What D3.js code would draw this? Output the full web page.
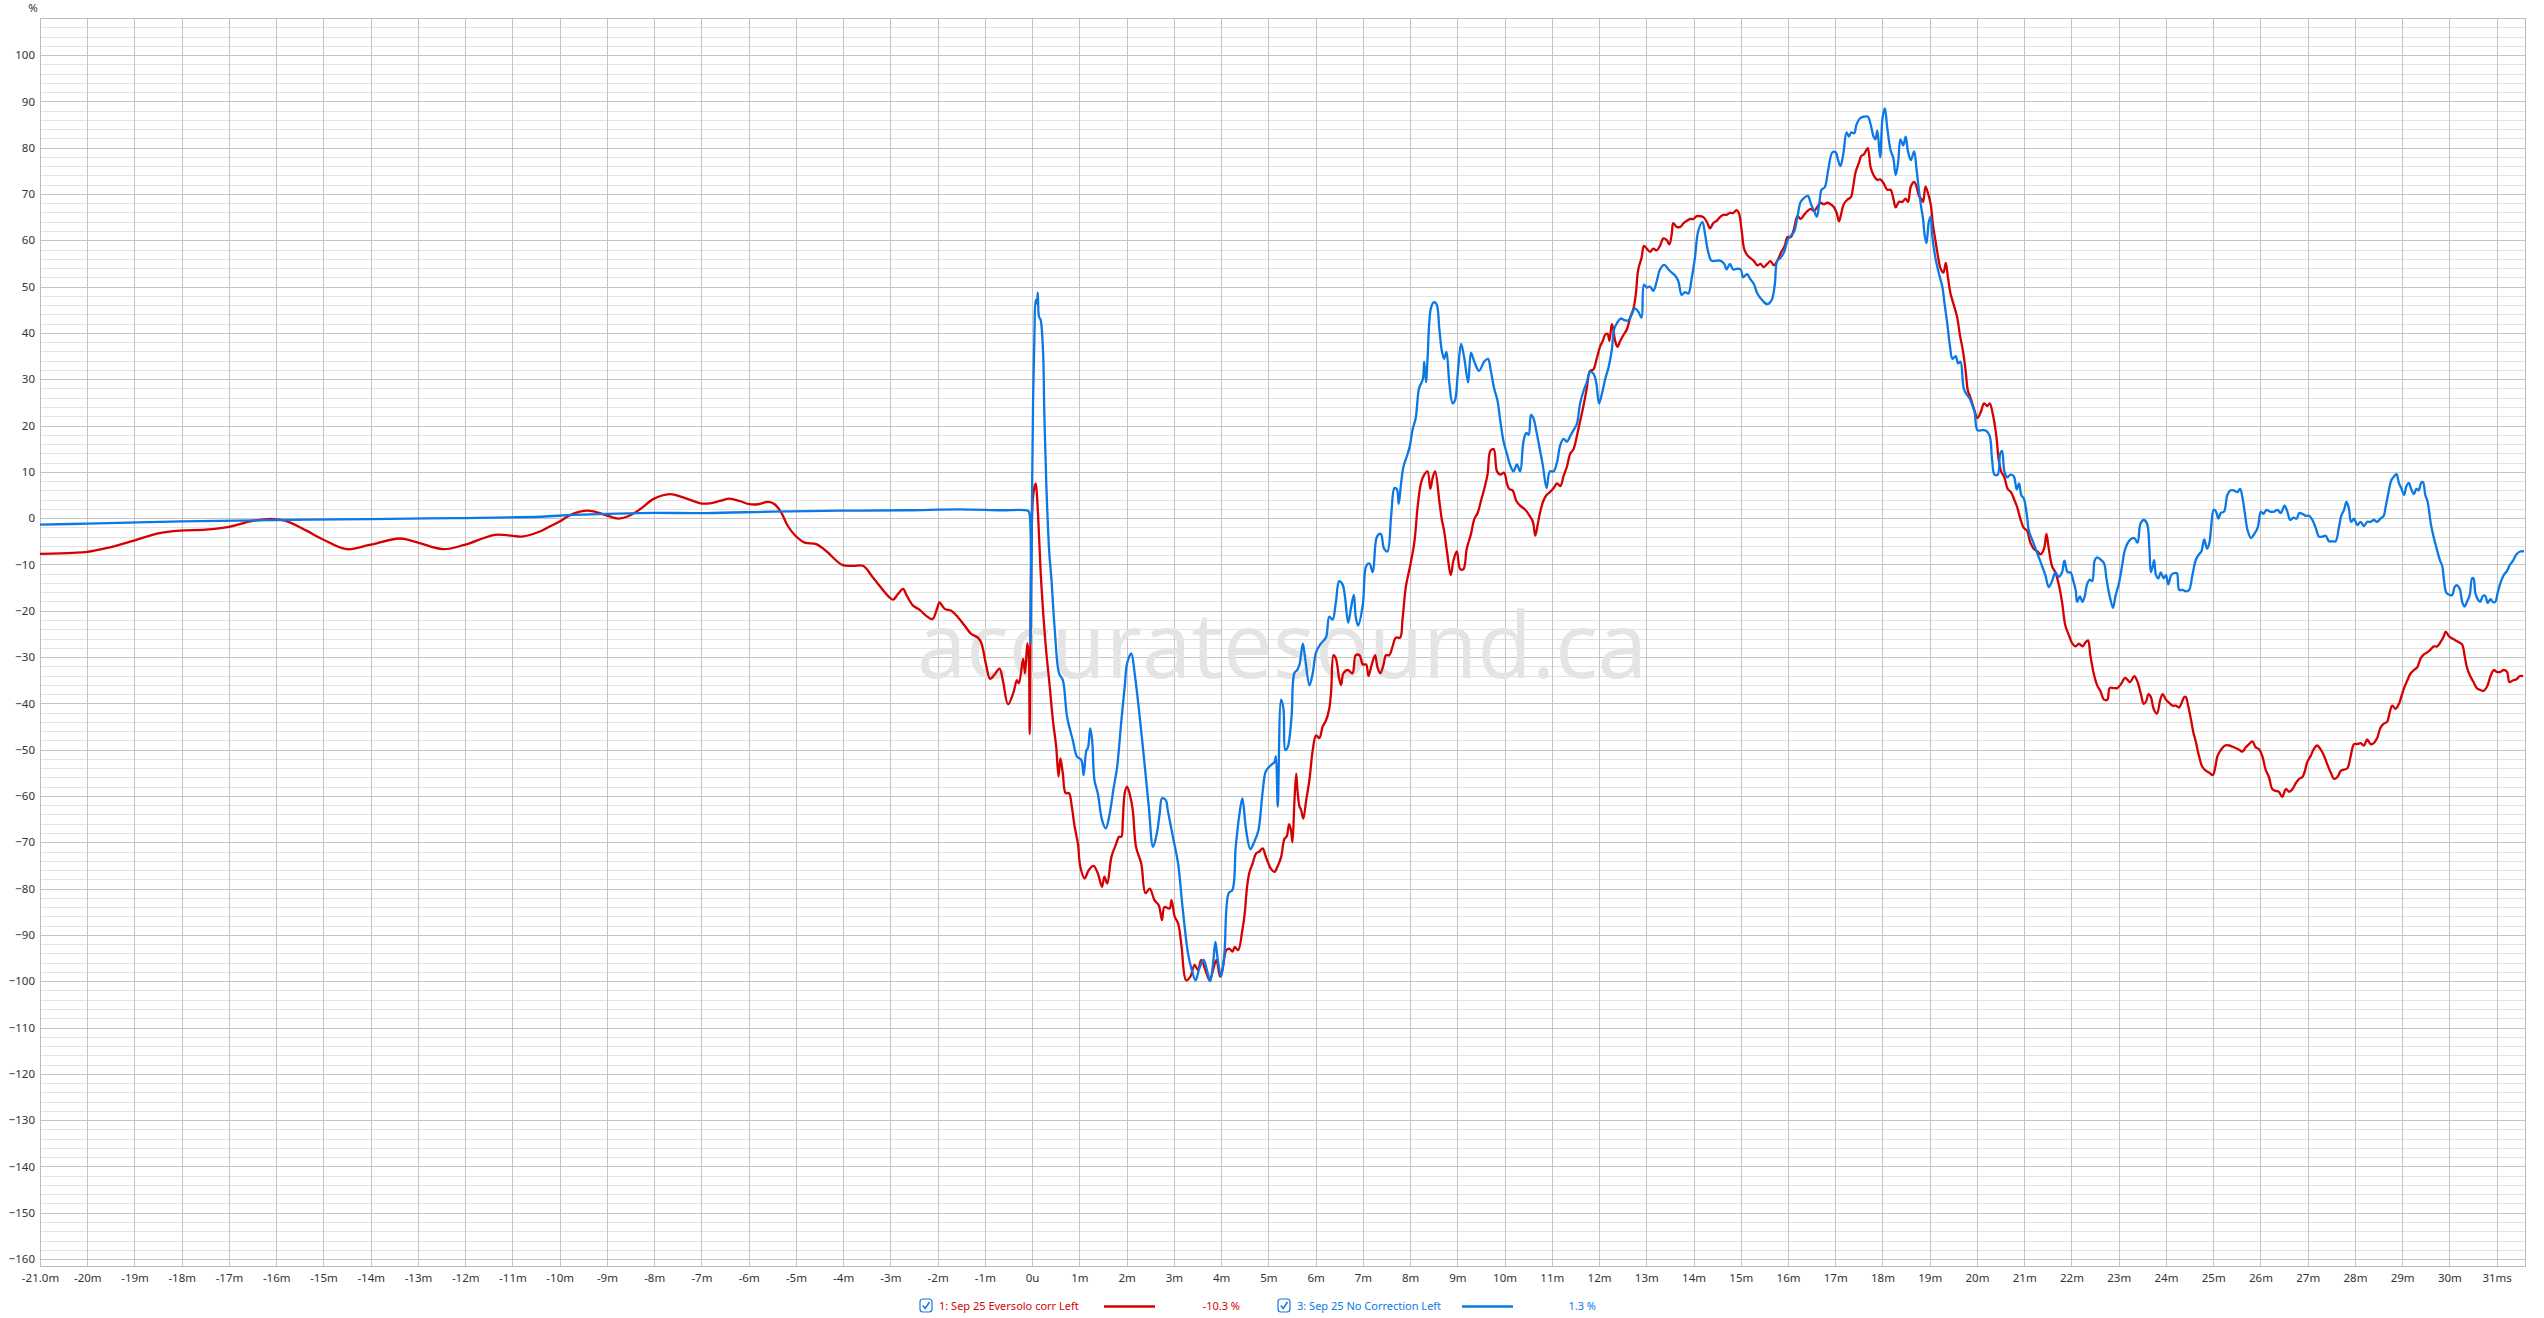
<!DOCTYPE html>
<html>
<head>
<meta charset="utf-8">
<script src="https://cdn.jsdelivr.net/npm/d3@7"></script>
<style>
  html, body { margin: 0; padding: 0; background: #fff; }
  svg { display: block; }
  text { font-family: "Segoe UI", "Noto Sans", "Open Sans", sans-serif; }
</style>
</head>
<body>
<svg id="chart" width="2544" height="1318"></svg>
<script>
// ---------------- DATA ----------------
const yTickValues = [100,90,80,70,60,50,40,30,20,10,0,-10,-20,-30,-40,-50,-60,-70,-80,-90,-100,-110,-120,-130,-140,-150,-160];
const xTickValues = [-21,-20,-19,-18,-17,-16,-15,-14,-13,-12,-11,-10,-9,-8,-7,-6,-5,-4,-3,-2,-1,0,1,2,3,4,5,6,7,8,9,10,11,12,13,14,15,16,17,18,19,20,21,22,23,24,25,26,27,28,29,30,31];
const xTickLabels = ["-21.0m","-20m","-19m","-18m","-17m","-16m","-15m","-14m","-13m","-12m","-11m","-10m","-9m","-8m","-7m","-6m","-5m","-4m","-3m","-2m","-1m","0u","1m","2m","3m","4m","5m","6m","7m","8m","9m","10m","11m","12m","13m","14m","15m","16m","17m","18m","19m","20m","21m","22m","23m","24m","25m","26m","27m","28m","29m","30m","31ms"];

const seriesNames = ["1: Sep 25 Eversolo corr Left", "3: Sep 25 No Correction Left"];
const seriesReadouts = ["-10.3 %", "1.3 %"];
const seriesColors = ["#d60000", "#0a78e6"];

// Series 1 (red): time in ms, value in %
const redT = [-21.0,-20.3,-20.0,-19.6,-19.03,-18.5,-18.03,-17.5,-17.0,-16.5,-16.06,-15.8,-15.36,-15.03,-14.51,-14.03,-13.38,-13.0,-12.47,-12.02,-11.37,-11.03,-10.8,-10.42,-10.21,-10.01,-9.79,-9.57,-9.40,-9.19,-9.01,-8.76,-8.55,-8.30,-8.02,-7.67,-7.39,-7.02,-6.82,-6.61,-6.41,-6.19,-5.98,-5.80,-5.59,-5.45,-5.31,-5.17,-5.01,-4.81,-4.57,-4.36,-4.02,-3.79,-3.58,-3.37,-3.02,-2.94,-2.84,-2.73,-2.66,-2.52,-2.38,-2.24,-2.11,-2.01,-1.96,-1.85,-1.71,-1.57,-1.43,-1.29,-1.15,-1.08,-0.97,-0.89,-0.79,-0.69,-0.62,-0.51,-0.40,-0.32,-0.28,-0.19,-0.15,-0.10,-0.07,-0.05,0.02,0.075,0.10,0.16,0.19,0.29,0.36,0.44,0.51,0.56,0.60,0.65,0.71,0.78,0.84,0.90,0.97,1.02,1.11,1.20,1.30,1.39,1.48,1.53,1.59,1.68,1.78,1.84,1.89,1.92,1.96,2.01,2.08,2.13,2.20,2.31,2.40,2.49,2.59,2.68,2.75,2.80,2.91,2.95,3.02,3.09,3.16,3.26,3.35,3.44,3.51,3.58,3.69,3.76,3.83,3.90,3.98,4.04,4.11,4.18,4.24,4.29,4.36,4.45,4.50,4.55,4.60,4.67,4.74,4.81,4.88,4.95,5.06,5.13,5.20,5.27,5.34,5.39,5.44,5.48,5.51,5.55,5.59,5.62,5.66,5.69,5.74,5.80,5.87,5.94,6.01,6.08,6.15,6.22,6.29,6.33,6.38,6.43,6.50,6.54,6.59,6.68,6.78,6.85,6.93,7.00,7.07,7.12,7.19,7.26,7.31,7.37,7.44,7.49,7.56,7.63,7.70,7.79,7.84,7.91,8.00,8.09,8.16,8.23,8.30,8.37,8.43,8.48,8.53,8.62,8.67,8.72,8.79,8.86,8.92,8.99,9.06,9.13,9.20,9.29,9.36,9.43,9.50,9.57,9.64,9.70,9.77,9.84,9.91,9.99,10.05,10.10,10.17,10.25,10.33,10.44,10.53,10.60,10.65,10.70,10.75,10.82,10.89,10.96,11.04,11.11,11.18,11.25,11.32,11.39,11.46,11.53,11.60,11.67,11.74,11.81,11.88,11.95,12.02,12.08,12.13,12.18,12.22,12.27,12.30,12.34,12.39,12.45,12.52,12.59,12.66,12.73,12.78,12.83,12.90,12.95,13.01,13.08,13.15,13.22,13.29,13.36,13.43,13.49,13.54,13.57,13.64,13.72,13.79,13.86,13.93,14.00,14.07,14.14,14.21,14.28,14.35,14.42,14.49,14.56,14.63,14.70,14.77,14.84,14.91,14.96,15.02,15.07,15.13,15.20,15.28,15.35,15.42,15.48,15.56,15.63,15.70,15.77,15.86,15.93,15.99,16.06,16.13,16.20,16.27,16.34,16.41,16.48,16.55,16.62,16.69,16.76,16.83,16.90,16.97,17.03,17.08,17.13,17.18,17.26,17.33,17.38,17.43,17.50,17.55,17.61,17.66,17.69,17.75,17.81,17.88,17.96,18.03,18.10,18.17,18.23,18.28,18.35,18.42,18.49,18.54,18.60,18.67,18.72,18.77,18.82,18.86,18.91,18.96,19.02,19.07,19.12,19.17,19.23,19.29,19.34,19.38,19.44,19.51,19.58,19.64,19.71,19.76,19.81,19.86,19.94,20.01,20.08,20.15,20.22,20.27,20.34,20.41,20.46,20.51,20.58,20.65,20.72,20.80,20.85,20.92,20.99,21.06,21.13,21.20,21.28,21.35,21.42,21.47,21.52,21.59,21.66,21.73,21.80,21.87,21.94,22.02,22.09,22.16,22.23,22.30,22.35,22.40,22.47,22.54,22.61,22.69,22.76,22.81,22.90,22.97,23.05,23.14,23.24,23.33,23.40,23.47,23.53,23.58,23.63,23.68,23.74,23.81,23.88,23.93,24.00,24.07,24.14,24.21,24.28,24.33,24.39,24.42,24.47,24.53,24.58,24.63,24.70,24.77,24.85,24.92,24.99,25.04,25.09,25.16,25.25,25.34,25.44,25.53,25.62,25.69,25.76,25.83,25.90,25.97,26.04,26.11,26.18,26.25,26.32,26.39,26.46,26.54,26.61,26.68,26.75,26.82,26.89,26.94,26.99,27.06,27.13,27.20,27.27,27.35,27.42,27.49,27.56,27.63,27.70,27.77,27.84,27.91,27.98,28.05,28.12,28.19,28.26,28.33,28.40,28.47,28.54,28.61,28.68,28.74,28.79,28.86,28.94,28.98,29.04,29.11,29.18,29.25,29.32,29.39,29.46,29.53,29.60,29.67,29.74,29.81,29.88,29.92,29.99,30.06,30.13,30.20,30.27,30.32,30.37,30.44,30.51,30.58,30.65,30.72,30.80,30.87,30.94,31.00,31.08,31.15,31.22,31.27,31.35,31.42,31.49,31.56];
const redV = [-7.7,-7.5,-7.3,-6.5,-4.9,-3.3,-2.7,-2.5,-1.9,-0.6,-0.2,-0.6,-2.7,-4.5,-6.7,-5.8,-4.4,-5.3,-6.7,-5.8,-3.6,-3.8,-4.0,-2.9,-1.8,-0.8,0.6,1.4,1.6,1.2,0.6,-0.1,0.4,1.9,4.1,5.2,4.5,3.2,3.2,3.7,4.2,3.7,3.0,3.0,3.5,3.0,1.2,-1.7,-3.8,-5.3,-5.6,-7.1,-10.1,-10.3,-10.3,-12.8,-17.1,-17.6,-16.4,-15.3,-16.6,-18.9,-19.8,-21.1,-21.8,-19.5,-18.2,-19.6,-20.0,-21.4,-23.2,-25.0,-25.8,-26.8,-31.9,-34.7,-33.7,-32.5,-35.0,-40.2,-37.8,-35.0,-35.7,-30.4,-33.5,-27.0,-30.0,-46.6,4.6,7.5,5.3,-6.9,-13.4,-27.8,-35.0,-43.6,-49.4,-55.8,-51.9,-55.1,-59.4,-59.4,-62.3,-66.6,-70.3,-75.3,-77.8,-76.0,-75.1,-76.7,-79.6,-77.4,-78.9,-73.1,-70.3,-68.8,-68.8,-65.2,-59.4,-58.0,-60.2,-63.0,-71.0,-74.6,-81.0,-80.0,-82.5,-83.6,-86.8,-84.0,-84.3,-82.5,-86.1,-87.5,-92.2,-99.8,-99.0,-96.5,-97.6,-95.4,-98.3,-99.8,-97.6,-95.4,-99.0,-96.9,-93.3,-93.0,-93.6,-92.6,-93.3,-89.0,-85.4,-79.6,-76.5,-74.5,-72.4,-72.0,-71.3,-73.2,-75.8,-76.4,-75.1,-73.2,-69.3,-68.7,-66.1,-67.4,-70.0,-61.7,-55.2,-59.1,-62.3,-62.9,-64.9,-61.0,-56.5,-50.1,-46.9,-47.5,-45.0,-43.7,-41.1,-37.3,-29.6,-30.3,-34.7,-36.0,-33.5,-32.8,-33.5,-29.6,-29.6,-31.6,-31.6,-34.1,-31.6,-29.6,-32.2,-33.5,-31.6,-29.6,-29.6,-27.7,-25.8,-25.8,-21.9,-14.9,-10.4,-5.3,2.4,7.5,9.4,10.1,6.3,8.8,10.1,3.7,-0.2,-2.7,-7.8,-12.3,-9.1,-7.2,-11.0,-11.0,-6.6,-3.4,-0.2,1.1,3.7,6.3,9.4,14.5,14.9,10.1,9.4,9.8,7.5,6.3,6.0,3.7,2.7,1.8,0.5,-0.8,-3.8,-1.5,1.1,3.7,5.0,5.6,6.5,7.5,6.9,9.1,11.1,13.9,14.9,17.7,20.9,24.2,28.0,31.8,32.1,34.4,37.0,38.3,39.6,39.8,38.3,41.9,40.8,38.3,37.0,38.3,39.6,40.8,43.3,45.3,48.5,53.7,56.2,58.8,58.2,57.5,58.2,57.8,58.8,60.4,60.1,59.1,61.4,63.7,62.9,62.9,63.7,64.2,64.6,64.6,65.2,65.2,65.0,64.0,62.6,63.7,64.2,65.0,65.5,65.5,65.9,65.9,66.5,65.9,62.0,58.2,56.9,56.2,55.5,54.6,54.9,54.2,54.9,55.5,54.6,55.5,57.5,58.8,60.7,60.7,62.6,65.2,64.6,65.5,66.3,66.8,66.3,67.2,68.1,67.8,68.1,67.8,67.2,65.9,64.1,65.9,67.8,68.8,69.3,71.6,74.7,76.7,78.2,78.6,79.5,79.9,75.7,74.1,73.1,73.1,72.2,70.9,70.9,69.0,67.1,68.3,68.3,69.0,68.3,71.6,72.6,71.6,69.6,69.0,68.3,71.6,70.3,67.8,63.2,60.0,56.8,53.9,53.0,55.1,52.4,48.5,46.0,43.4,39.5,35.7,31.8,27.4,26.1,23.5,21.6,22.9,24.8,24.2,24.8,22.2,17.7,12.6,10.1,8.8,6.3,5.6,3.7,2.4,-0.2,-2.1,-2.7,-5.3,-6.6,-7.2,-7.8,-6.6,-3.4,-6.6,-10.4,-11.7,-14.3,-18.1,-23.2,-25.1,-27.1,-27.7,-27.1,-27.7,-26.8,-26.4,-29.6,-33.5,-36.0,-37.3,-39.2,-39.2,-36.7,-36.7,-36.7,-35.8,-34.5,-35.4,-34.1,-35.4,-38.0,-40.1,-39.6,-38.0,-38.6,-41.2,-42.2,-39.2,-38.0,-39.2,-39.9,-40.5,-40.5,-40.9,-39.9,-38.6,-38.6,-40.5,-43.5,-46.3,-48.2,-51.4,-53.7,-54.6,-55.0,-55.5,-54.0,-51.4,-50.1,-49.1,-49.1,-49.5,-49.9,-50.4,-49.5,-48.8,-48.2,-49.5,-49.9,-51.4,-54.3,-55.9,-58.5,-58.9,-59.1,-60.2,-58.5,-59.1,-58.5,-57.2,-56.3,-55.9,-54.6,-52.7,-51.4,-49.9,-49.1,-49.9,-51.4,-53.3,-55.0,-56.3,-55.9,-54.6,-54.3,-54.0,-51.4,-48.8,-48.8,-48.6,-49.1,-47.8,-48.8,-48.6,-47.5,-45.3,-44.4,-44.0,-41.8,-40.5,-41.2,-39.9,-38.6,-36.7,-35.0,-33.5,-32.8,-32.2,-30.3,-29.4,-29.0,-28.4,-27.7,-27.7,-26.8,-25.5,-24.5,-25.5,-26.0,-26.4,-26.8,-27.3,-29.6,-32.2,-34.1,-35.4,-36.7,-37.1,-37.3,-36.3,-34.1,-32.8,-33.2,-33.2,-32.8,-33.2,-35.4,-35.0,-34.8,-34.1,-34.1];

// Series 3 (blue): time in ms, value in %
const blueT = [-21.0,-20.0,-18.0,-16.0,-14.0,-12.2,-10.4,-9.7,-8.3,-6.9,-5.5,-4.07,-2.66,-1.53,-0.69,-0.09,-0.06,-0.035,-0.01,0.02,0.05,0.075,0.10,0.12,0.145,0.18,0.23,0.26,0.30,0.36,0.41,0.48,0.57,0.65,0.74,0.86,0.95,1.04,1.09,1.15,1.18,1.23,1.27,1.32,1.39,1.48,1.56,1.63,1.73,1.80,1.89,1.96,2.01,2.10,2.17,2.27,2.40,2.47,2.56,2.64,2.70,2.75,2.83,2.87,2.98,3.09,3.19,3.30,3.37,3.46,3.54,3.63,3.70,3.77,3.83,3.88,3.93,4.00,4.07,4.16,4.24,4.31,4.39,4.45,4.53,4.62,4.70,4.79,4.88,4.95,5.06,5.13,5.16,5.20,5.27,5.32,5.36,5.41,5.49,5.55,5.61,5.66,5.73,5.78,5.87,5.94,6.01,6.11,6.22,6.29,6.36,6.43,6.50,6.57,6.62,6.69,6.75,6.81,6.85,6.90,7.00,7.07,7.14,7.21,7.30,7.38,7.45,7.52,7.60,7.67,7.72,7.76,7.81,7.86,7.95,8.00,8.05,8.12,8.19,8.27,8.30,8.34,8.37,8.44,8.50,8.56,8.62,8.67,8.72,8.77,8.83,8.90,8.95,9.01,9.08,9.15,9.23,9.29,9.36,9.46,9.57,9.65,9.71,9.78,9.85,9.92,9.98,10.05,10.12,10.19,10.26,10.33,10.40,10.46,10.51,10.56,10.61,10.67,10.74,10.81,10.89,10.96,11.04,11.11,11.18,11.25,11.32,11.39,11.46,11.53,11.60,11.67,11.74,11.81,11.88,11.94,12.00,12.06,12.13,12.20,12.27,12.32,12.38,12.46,12.55,12.62,12.69,12.76,12.83,12.90,12.95,13.01,13.08,13.15,13.22,13.29,13.38,13.47,13.54,13.61,13.68,13.75,13.82,13.89,13.96,14.03,14.10,14.19,14.24,14.31,14.38,14.49,14.56,14.65,14.70,14.77,14.84,14.93,15.00,15.05,15.13,15.21,15.28,15.35,15.46,15.56,15.65,15.72,15.77,15.84,15.92,15.99,16.06,16.13,16.20,16.27,16.35,16.42,16.49,16.55,16.61,16.66,16.71,16.78,16.85,16.94,17.01,17.06,17.11,17.17,17.24,17.29,17.34,17.40,17.45,17.52,17.61,17.69,17.75,17.81,17.85,17.89,17.95,18.00,18.05,18.10,18.17,18.23,18.28,18.33,18.38,18.44,18.49,18.54,18.60,18.67,18.72,18.77,18.82,18.86,18.89,18.93,18.98,19.02,19.05,19.12,19.19,19.27,19.31,19.37,19.43,19.48,19.55,19.60,19.65,19.72,19.78,19.83,19.90,19.95,20.01,20.11,20.20,20.27,20.32,20.37,20.44,20.49,20.53,20.58,20.64,20.71,20.78,20.84,20.89,20.94,20.99,21.05,21.10,21.17,21.24,21.31,21.38,21.45,21.52,21.59,21.66,21.73,21.80,21.85,21.92,21.98,22.04,22.09,22.12,22.18,22.23,22.28,22.33,22.39,22.44,22.49,22.54,22.61,22.69,22.74,22.81,22.88,22.93,23.00,23.07,23.14,23.24,23.33,23.40,23.46,23.53,23.60,23.65,23.68,23.72,23.75,23.79,23.84,23.89,23.95,24.00,24.05,24.11,24.16,24.23,24.28,24.35,24.42,24.49,24.56,24.63,24.70,24.75,24.81,24.87,24.92,24.95,25.01,25.06,25.11,25.16,25.23,25.30,25.37,25.44,25.51,25.57,25.62,25.67,25.73,25.80,25.87,25.94,26.01,26.06,26.13,26.20,26.29,26.36,26.43,26.51,26.57,26.63,26.70,26.77,26.82,26.89,26.96,27.03,27.10,27.17,27.24,27.31,27.38,27.45,27.52,27.59,27.66,27.71,27.77,27.82,27.87,27.92,27.98,28.05,28.12,28.19,28.26,28.33,28.40,28.47,28.54,28.61,28.65,28.70,28.77,28.82,28.88,28.93,28.98,29.04,29.09,29.14,29.19,29.25,29.30,29.35,29.40,29.44,29.49,29.54,29.60,29.65,29.73,29.80,29.85,29.88,29.94,30.01,30.06,30.11,30.16,30.22,30.27,30.32,30.37,30.43,30.48,30.51,30.55,30.60,30.65,30.71,30.76,30.81,30.87,30.92,30.97,31.02,31.08,31.15,31.22,31.28,31.35,31.42,31.50,31.58];
const blueV = [-1.4,-1.2,-0.7,-0.4,-0.2,0.0,0.3,0.7,1.1,1.1,1.4,1.6,1.7,1.9,1.7,1.6,1.2,-27.0,-5.0,25.0,40.0,47.1,46.4,48.7,43.5,42.8,36.3,21.9,7.5,-6.9,-13.4,-24.2,-33.5,-35.0,-42.9,-47.9,-51.5,-52.2,-55.5,-50.1,-49.7,-45.4,-47.9,-56.6,-59.4,-65.2,-67.0,-64.5,-58.0,-53.7,-43.6,-36.4,-31.4,-29.2,-33.5,-42.2,-55.1,-62.3,-71.0,-68.1,-63.8,-60.5,-60.9,-63.0,-68.8,-74.6,-84.6,-94.0,-97.2,-99.8,-97.2,-95.4,-97.6,-100.0,-96.2,-91.5,-95.4,-99.0,-94.0,-81.0,-80.3,-71.0,-63.8,-60.5,-67.4,-71.5,-70.0,-67.4,-59.1,-54.6,-53.3,-52.7,-51.4,-62.3,-39.2,-41.2,-50.1,-49.5,-43.1,-33.5,-32.8,-31.6,-27.1,-30.3,-36.1,-33.5,-29.0,-27.1,-25.8,-21.3,-21.9,-18.1,-13.6,-14.3,-16.8,-22.6,-19.4,-16.6,-21.3,-23.2,-18.7,-10.4,-9.8,-11.7,-4.0,-3.4,-6.6,-7.2,0.5,6.5,6.3,3.1,7.5,11.1,13.9,15.8,19.0,21.6,28.0,30.0,33.8,29.3,34.4,45.3,46.6,46.2,40.8,36.3,34.4,35.9,29.3,24.8,25.4,31.2,37.6,34.4,29.3,35.7,33.8,31.8,33.8,34.4,31.8,28.0,25.4,20.3,16.5,13.9,11.4,10.1,11.6,10.1,16.5,18.4,18.0,22.3,21.6,19.0,15.2,11.4,6.5,10.1,10.1,12.0,15.8,17.1,16.5,17.7,19.0,20.3,24.8,27.4,29.3,31.6,31.2,29.3,24.8,26.8,30.0,32.5,36.3,40.8,42.1,43.1,42.7,42.7,44.0,45.3,44.6,43.3,50.4,49.8,50.0,49.1,51.1,53.7,54.7,53.7,53.0,52.4,51.1,48.2,48.8,48.5,51.7,56.2,62.0,63.9,61.6,57.5,55.6,55.6,55.6,54.9,53.7,54.9,53.7,53.9,53.7,52.0,52.7,51.5,50.5,48.5,47.0,46.2,47.0,50.4,55.5,56.2,57.5,60.0,61.0,61.9,65.1,68.3,69.2,69.6,67.7,66.4,65.1,67.7,70.9,71.5,75.1,79.0,79.0,77.3,76.0,78.6,83.3,82.4,83.3,83.1,85.0,86.3,86.7,86.7,85.0,82.4,81.8,83.7,77.9,86.3,88.5,84.4,79.5,77.7,74.1,76.7,81.8,80.5,82.4,79.2,77.3,79.2,75.4,70.9,67.1,64.5,61.3,59.4,63.9,65.1,61.3,56.2,53.0,49.8,46.6,42.1,37.0,34.4,35.0,33.4,33.8,28.0,26.7,26.1,24.4,22.9,19.0,19.0,18.8,17.7,12.6,9.4,9.4,13.9,14.5,10.1,8.8,9.4,9.0,6.2,7.5,4.9,4.3,1.1,-2.8,-4.7,-6.6,-8.5,-10.4,-12.4,-14.9,-13.6,-11.7,-12.7,-11.7,-9.2,-11.7,-11.7,-13.6,-15.6,-18.1,-16.9,-18.1,-16.9,-14.3,-13.3,-13.6,-9.2,-8.5,-8.9,-9.8,-13.0,-16.9,-19.4,-16.9,-14.3,-10.4,-6.6,-4.7,-4.3,-5.3,-1.2,-0.4,-1.2,-6.6,-11.7,-10.4,-9.1,-12.3,-13.0,-11.7,-13.0,-12.3,-14.3,-12.3,-11.9,-11.9,-15.5,-15.5,-15.8,-15.5,-12.3,-9.1,-7.8,-7.2,-4.6,-6.6,-5.3,-2.7,1.8,1.4,-0.1,1.1,1.4,5.0,6.0,6.0,5.6,6.3,4.4,1.1,-2.7,-4.3,-3.4,-2.1,1.4,0.9,1.8,1.4,1.4,1.8,1.1,2.7,1.4,-0.4,0.1,-0.1,1.1,0.9,0.5,0.5,-0.4,-2.1,-4.0,-4.0,-3.8,-5.0,-5.0,-5.0,-2.1,0.5,1.8,3.5,2.2,-0.8,-0.1,-1.5,-0.8,-1.7,-0.8,-0.8,-0.4,-0.8,-0.1,0.5,2.4,5.0,8.2,8.9,9.5,7.6,6.5,5.0,6.9,7.6,6.3,5.2,6.3,6.0,7.6,7.8,5.0,3.5,-0.8,-3.4,-6.6,-9.1,-10.4,-13.0,-16.2,-16.6,-16.6,-14.9,-14.5,-15.3,-18.1,-19.1,-18.1,-16.6,-13.0,-13.0,-16.2,-17.5,-18.1,-16.8,-16.8,-18.3,-17.5,-18.1,-18.1,-16.2,-14.0,-12.3,-11.4,-10.1,-9.1,-7.8,-7.2,-7.2];

// ---------------- LAYOUT ----------------
const W = 2544, H = 1318;
const plotL = 40, plotR = 2525, plotT = 18, plotB = 1266;

const svg = d3.select("#chart");
const x = d3.scaleLinear().domain([-21, 31.6]).range([plotL, plotR]);
const y = d3.scaleLinear().domain([-161.5, 108]).range([plotB, plotT]);

// grid
const grid = svg.append("g");
const minorY = d3.range(-160, 108.1, 2).filter(v => v % 10 !== 0);
grid.selectAll("line.minor").data(minorY).join("line")
  .attr("x1", plotL).attr("x2", plotR)
  .attr("y1", d => Math.round(y(d)) + 0.5).attr("y2", d => Math.round(y(d)) + 0.5)
  .attr("stroke", "#e2e2e2").attr("stroke-width", 1);
grid.selectAll("line.majorY").data(yTickValues).join("line")
  .attr("x1", plotL).attr("x2", plotR)
  .attr("y1", d => Math.round(y(d)) + 0.5).attr("y2", d => Math.round(y(d)) + 0.5)
  .attr("stroke", "#c4c4c4").attr("stroke-width", 1);
grid.selectAll("line.majorX").data(xTickValues.slice(1)).join("line")
  .attr("y1", plotT).attr("y2", plotB)
  .attr("x1", d => Math.round(x(d)) + 0.5).attr("x2", d => Math.round(x(d)) + 0.5)
  .attr("stroke", "#c4c4c4").attr("stroke-width", 1);
svg.append("rect")
  .attr("x", plotL + 0.5).attr("y", plotT + 0.5)
  .attr("width", plotR - plotL).attr("height", plotB - plotT)
  .attr("fill", "none").attr("stroke", "#bdbdbd").attr("stroke-width", 1);

// watermark
svg.append("text")
  .attr("x", 917).attr("y", 678)
  .attr("textLength", 730).attr("lengthAdjust", "spacingAndGlyphs")
  .attr("font-size", 92).attr("fill", "#e4e4e4")
  .style("font-family", "'Open Sans', 'Noto Sans', sans-serif")
  .text("accuratesound.ca");

// axes labels
const yAxis = d3.axisLeft(y).tickValues(yTickValues).tickSize(0).tickPadding(4).tickFormat(d3.format("d"));
const gy = svg.append("g").attr("transform", `translate(${plotL - 1},0)`).call(yAxis);
gy.select(".domain").remove();
gy.selectAll("text").attr("font-size", 11.5).attr("fill", "#333").style("font-family", "'Segoe UI','Noto Sans',sans-serif");

const xAxis = d3.axisBottom(x).tickValues(xTickValues).tickSize(0).tickPadding(8)
  .tickFormat((d, i) => xTickLabels[i]);
const gx = svg.append("g").attr("transform", `translate(0,${plotB})`).call(xAxis);
gx.select(".domain").remove();
gx.selectAll("text").attr("font-size", 11.5).attr("fill", "#333").style("font-family", "'Segoe UI','Noto Sans',sans-serif");

svg.append("text").attr("x", 33).attr("y", 12).attr("text-anchor", "middle")
  .attr("font-size", 11.5).attr("fill", "#333").text("%");

// curves
const clip = svg.append("clipPath").attr("id", "plotclip").append("rect")
  .attr("x", plotL).attr("y", plotT).attr("width", plotR - plotL).attr("height", plotB - plotT);

const line = d3.line().x(d => x(d[0])).y(d => y(d[1])).curve(d3.curveCatmullRom.alpha(0.5));
const redData = redT.map((t, i) => [t, redV[i]]);
const blueData = blueT.map((t, i) => [t, blueV[i]]);

const curves = svg.append("g").attr("clip-path", "url(#plotclip)");
curves.append("path").datum(redData).attr("d", line)
  .attr("fill", "none").attr("stroke", seriesColors[0]).attr("stroke-width", 2.3)
  .attr("stroke-linejoin", "round");
curves.append("path").datum(blueData).attr("d", line)
  .attr("fill", "none").attr("stroke", seriesColors[1]).attr("stroke-width", 2.3)
  .attr("stroke-linejoin", "round");

// legend
const legendY = 1306;
const legendItems = [
  { box: 926, text: 939, l1: 1104, l2: 1155, read: 1240 },
  { box: 1284, text: 1297, l1: 1462, l2: 1513, read: 1596 }
];
const lg = svg.append("g");
legendItems.forEach((it, i) => {
  const g = lg.append("g");
  g.append("rect").attr("x", it.box - 6).attr("y", legendY - 7).attr("width", 12).attr("height", 13)
    .attr("rx", 3).attr("fill", "#fff").attr("stroke", "#1a73e8").attr("stroke-width", 1.2);
  g.append("path")
    .attr("d", `M${it.box - 3.2},${legendY - 0.5} L${it.box - 0.8},${legendY + 2.5} L${it.box + 3.5},${legendY - 4}`)
    .attr("fill", "none").attr("stroke", "#1a73e8").attr("stroke-width", 1.5);
  g.append("text").attr("x", it.text).attr("y", legendY + 4)
    .attr("font-size", 11).attr("fill", seriesColors[i]).text(seriesNames[i]);
  g.append("line").attr("x1", it.l1).attr("x2", it.l2).attr("y1", legendY + 0.5).attr("y2", legendY + 0.5)
    .attr("stroke", seriesColors[i]).attr("stroke-width", 2.5);
  g.append("text").attr("x", it.read).attr("y", legendY + 4).attr("text-anchor", "end")
    .attr("font-size", 11).attr("fill", seriesColors[i]).text(seriesReadouts[i]);
});
</script>
</body>
</html>
